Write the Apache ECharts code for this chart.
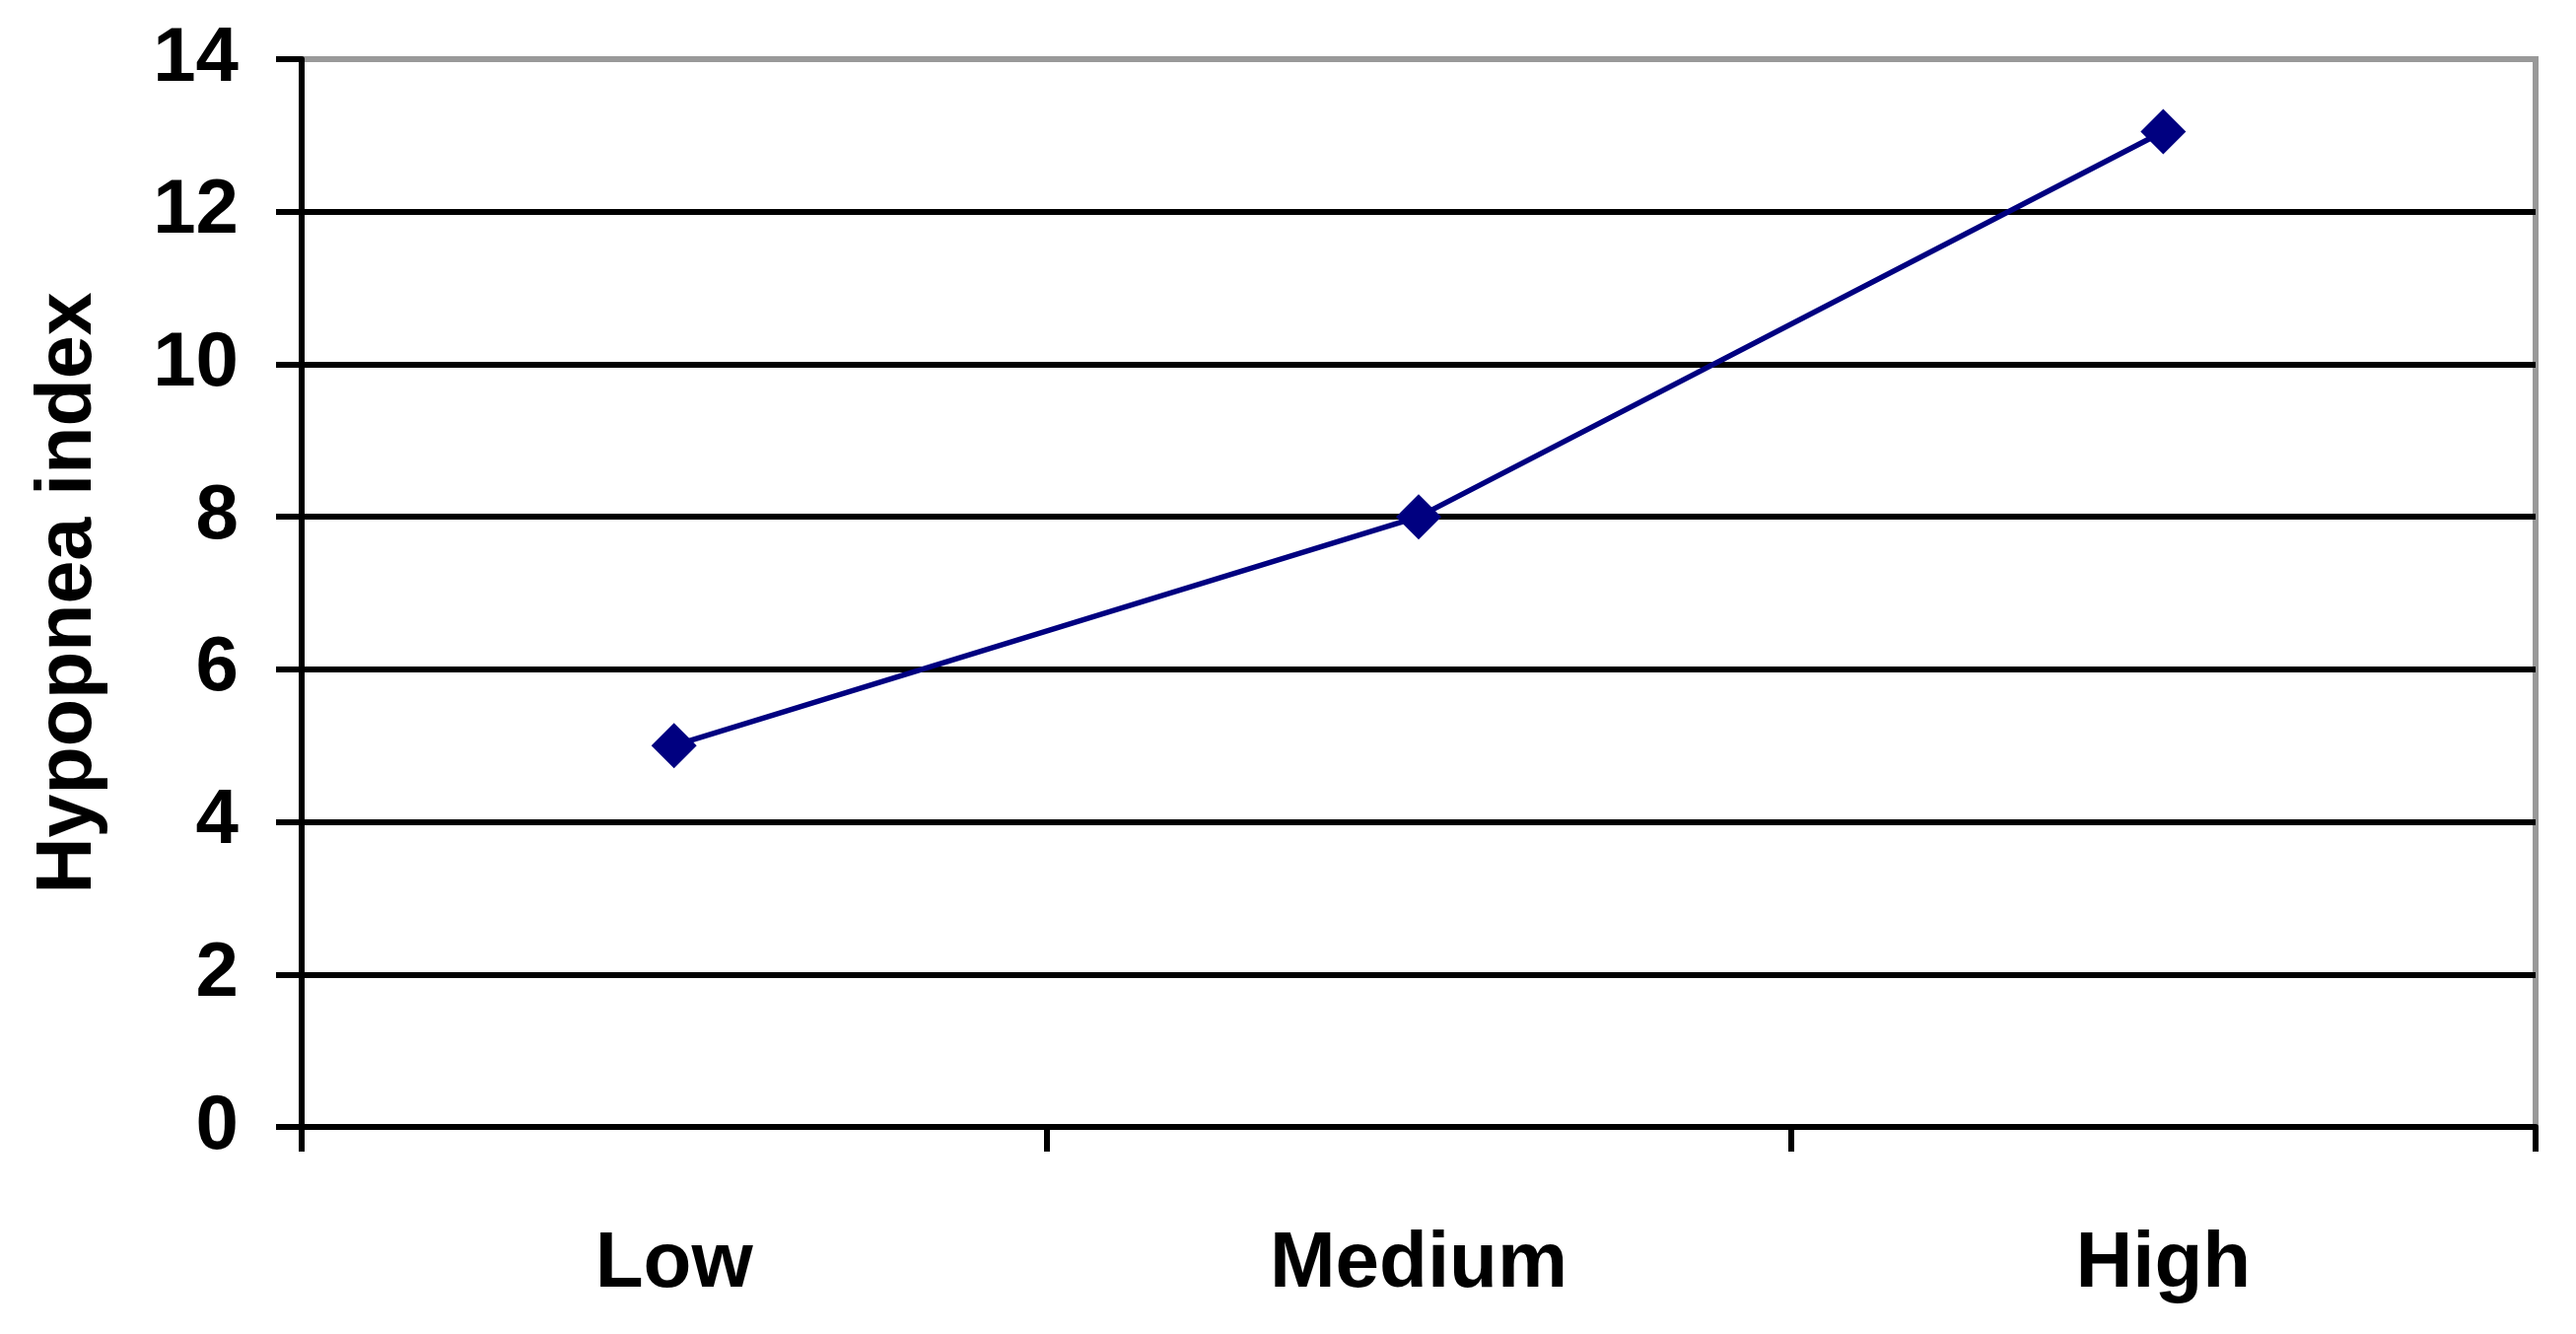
<!DOCTYPE html>
<html>
<head>
<meta charset="utf-8">
<script src="https://cdn.jsdelivr.net/npm/echarts@6/dist/echarts.min.js"></script>
<style>
html,body{margin:0;padding:0;background:#fff;}
#chart{width:2613px;height:1353px;}
</style>
</head>
<body>
<div id="chart"></div>
<script>
const categories = ['Low', 'Medium', 'High'];
const hypopneaValues = [5, 8, 13.05];
const yAxisTitle = 'Hypopnea index';

const chart = echarts.init(document.getElementById('chart'));
chart.setOption({
  animation: false,
  backgroundColor: '#ffffff',
  grid: {
    left: 306, right: 41, top: 60, bottom: 210,
    show: true, borderColor: '#999999', borderWidth: 6, backgroundColor: 'transparent'
  },
  xAxis: {
    type: 'category',
    data: categories,
    boundaryGap: true,
    axisLine: { lineStyle: { color: '#000', width: 6 } },
    axisTick: { show: true, length: 25, lineStyle: { color: '#000', width: 6 } },
    axisLabel: { color: '#000', fontFamily: 'Liberation Sans', fontWeight: 'bold', fontSize: 80, margin: 100 }
  },
  yAxis: {
    type: 'value',
    min: 0, max: 14, interval: 2,
    name: yAxisTitle,
    nameLocation: 'middle',
    nameRotate: 90,
    nameGap: 196,
    nameTextStyle: { color: '#000', fontFamily: 'Liberation Sans', fontWeight: 'bold', fontSize: 79 },
    axisLine: { show: true, lineStyle: { color: '#000', width: 6 } },
    axisTick: { show: true, length: 26, lineStyle: { color: '#000', width: 6 } },
    axisLabel: { color: '#000', fontFamily: 'Liberation Sans', fontWeight: 'bold', fontSize: 78, margin: 64 },
    splitLine: { show: true, showMaxLine: false, lineStyle: { color: '#000', width: 6 } }
  },
  series: [{
    type: 'line',
    data: hypopneaValues,
    symbol: 'diamond',
    symbolSize: 46,
    lineStyle: { color: '#000080', width: 5.5 },
    itemStyle: { color: '#000080' },
    z: 5
  }]
});
</script>
</body>
</html>
